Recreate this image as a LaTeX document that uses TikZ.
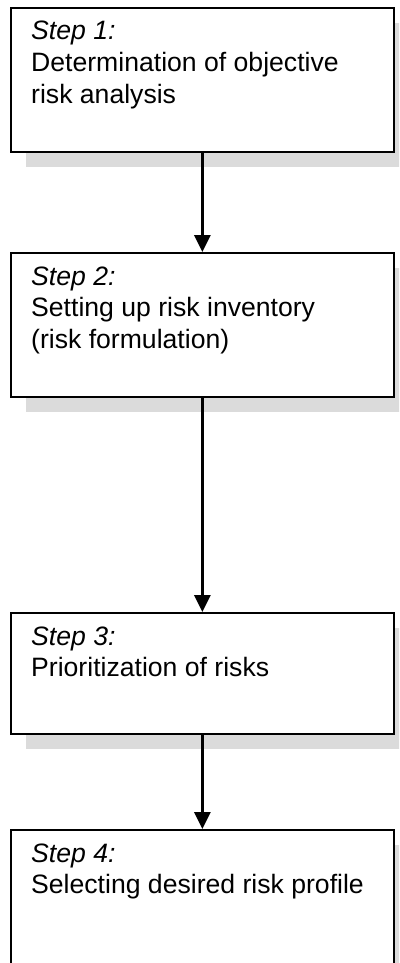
\documentclass[tikz,border=0pt]{standalone}
\usepackage{fontspec}
\setmainfont{Liberation Sans}
\usetikzlibrary{arrows.meta,shadows}
\tikzset{
  stepbox/.style={draw=black, line width=1.8pt, fill=white, minimum width=383pt, inner sep=0pt, anchor=north west,
    drop shadow={shadow xshift=15pt, shadow yshift=-15pt, fill=black!14, opacity=1}},
  steptext/.style={anchor=base west, align=left, inner sep=0pt, font=\fontsize{26.6}{31.5}\selectfont},
  arr/.style={line width=3pt, -{Triangle[width=16pt,length=17pt]}}
}
\begin{document}
\begin{tikzpicture}[x=1pt,y=-1pt]
\path[use as bounding box, clip] (0,0) rectangle (399,963);
\node[stepbox, minimum height=144pt] (s1) at (10,7) {};
\node[stepbox, minimum height=144pt] (s2) at (10,252) {};
\node[stepbox, minimum height=121pt] (s3) at (10,612) {};
\node[stepbox, minimum height=150pt] (s4) at (10,829) {};
\node[steptext] (t1) at (31,103) {\textit{Step 1:}\\Determination of objective\\risk analysis};
\node[steptext] (t2) at (31,348) {\textit{Step 2:}\\Setting up risk inventory\\(risk formulation)};
\node[steptext] (t3) at (31,676.5) {\textit{Step 3:}\\Prioritization of risks};
\node[steptext] (t4) at (31,893.5) {\textit{Step 4:}\\Selecting desired risk profile};
\draw[arr] (s1) -- (s2);
\draw[arr] (s2) -- (s3);
\draw[arr] (s3) -- (s4);
\end{tikzpicture}
\end{document}
